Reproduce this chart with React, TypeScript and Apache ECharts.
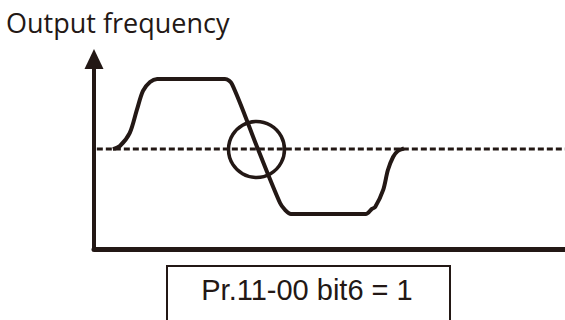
import React, { useEffect, useRef } from "react";
import * as echarts from "echarts";

const INK = "#231815";

// time (x) and output frequency (y) in arbitrary 0..100 units
const curveX = [4.0, 5.5, 7.6, 9.1, 10.4, 11.9, 13.4, 27.8, 29.3, 34.8, 39.5, 40.6, 41.8, 57.7, 59.0, 59.7, 61.4, 62.4, 63.5, 64.5, 65.8];
const curveY = [52.6, 54.2, 61.1, 73.2, 83.2, 87.9, 89.5, 89.5, 86.8, 52.6, 24.2, 20.5, 18.4, 18.4, 21.1, 22.1, 31.1, 41.6, 48.4, 51.6, 52.9];
const levelX = [0.6, 100];
const levelY = [52.6, 52.6];
const markerPoint = [34.5, 52.4];

const titleText = "Output frequency";
const boxText = "Pr.11-00 bit6 = 1";

export default function App() {
  const ref = useRef<HTMLDivElement>(null);
  useEffect(() => {
    if (!ref.current) return;
    const chart = echarts.init(ref.current, null, { renderer: "svg" });
    chart.setOption({
      animation: false,
      backgroundColor: "#ffffff",
      title: {
        text: titleText,
        left: 6,
        top: 9,
        padding: 0,
        textStyle: { fontFamily: "Open Sans", fontSize: 27, fontWeight: "normal", color: INK },
      },
      grid: { left: 94, right: 0, top: 59, bottom: 71 },
      xAxis: {
        type: "value",
        min: 0,
        max: 100,
        axisLine: { show: true, lineStyle: { color: INK, width: 5 } },
        axisTick: { show: false },
        axisLabel: { show: false },
        splitLine: { show: false },
      },
      yAxis: {
        type: "value",
        min: 0,
        max: 100,
        axisLine: {
          show: true,
          symbol: ["none", "triangle"],
          symbolSize: [19, 20],
          lineStyle: { color: INK, width: 4 },
        },
        axisTick: { show: false },
        axisLabel: { show: false },
        splitLine: { show: false },
      },
      series: [
        {
          type: "line",
          data: levelX.map((x, i) => [x, levelY[i]]),
          symbol: "none",
          lineStyle: { color: INK, width: 3, type: [6, 3] },
          z: 2,
        },
        {
          type: "line",
          data: curveX.map((x, i) => [x, curveY[i]]),
          symbol: "none",
          smooth: 0.3,
          lineStyle: { color: INK, width: 4 },
          z: 3,
        },
        {
          type: "scatter",
          data: [markerPoint],
          symbol: "circle",
          symbolSize: 56,
          itemStyle: { color: "rgba(0,0,0,0)", borderColor: INK, borderWidth: 3.5, opacity: 1 },
          z: 4,
        },
      ],
      graphic: [
        {
          type: "rect",
          shape: { x: 167, y: 266, width: 283, height: 80 },
          style: { fill: "none", stroke: INK, lineWidth: 2 },
        },
        {
          type: "text",
          x: 307,
          y: 290,
          style: {
            text: boxText,
            fontFamily: "Liberation Sans",
            fontSize: 29,
            fill: INK,
            align: "center",
            verticalAlign: "middle",
          },
        },
      ],
    });
    return () => chart.dispose();
  }, []);
  return <div ref={ref} style={{ width: 565, height: 320, position: "fixed", left: 0, top: 0 }} />;
}
